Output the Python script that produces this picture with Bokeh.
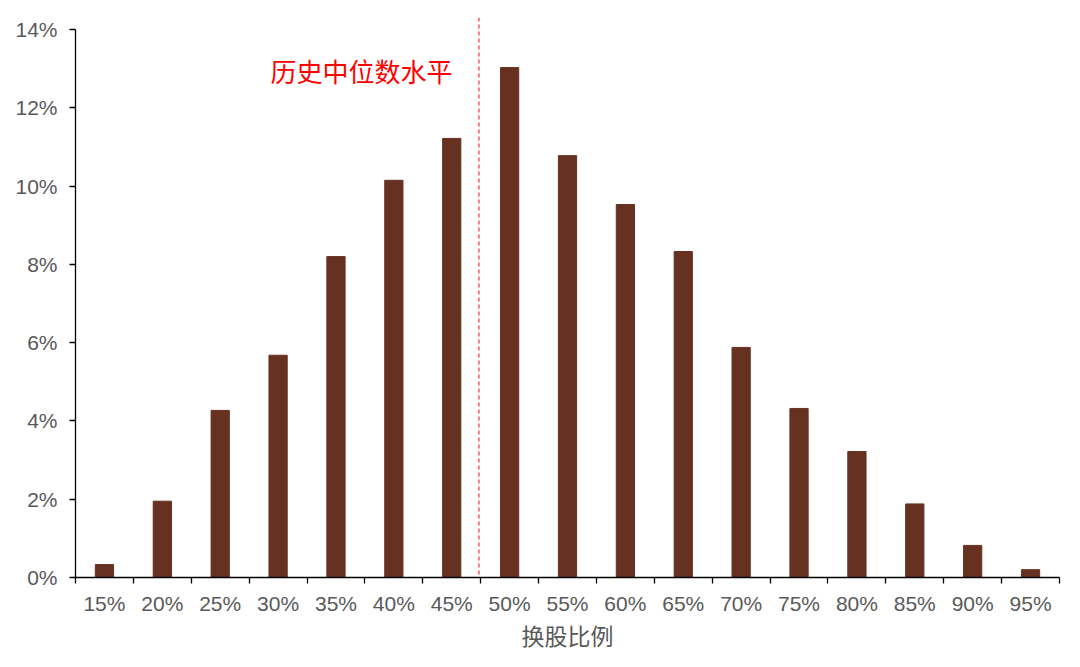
from bokeh.plotting import figure
from bokeh.models import FixedTicker, Span, Label, Range1d, CustomJSTickFormatter
from bokeh.embed import file_html
from bokeh.resources import INLINE

# ---- data ----
categories = ["15%", "20%", "25%", "30%", "35%", "40%", "45%", "50%", "55%",
              "60%", "65%", "70%", "75%", "80%", "85%", "90%", "95%"]
shares = [0.33, 1.95, 4.27, 5.68, 8.20, 10.15, 11.22, 13.03, 10.78,
          9.53, 8.33, 5.88, 4.32, 3.22, 1.88, 0.82, 0.20]
y_ticks = [0, 2, 4, 6, 8, 10, 12, 14]
median_label = "历史中位数水平"
x_title = "换股比例"
median_boundary = 6.97  # between 45% and 50%

n = len(categories)
centers = [i + 0.5 for i in range(n)]
boundaries = list(range(n + 1))

p = figure(width=1064, height=662,
           x_range=Range1d(0, n), y_range=Range1d(0, 14.31),
           output_backend="svg", toolbar_location=None,
           min_border_left=75, min_border_right=5,
           min_border_top=17, min_border_bottom=85)
p.outline_line_color = None
p.xgrid.grid_line_color = None
p.ygrid.grid_line_color = None
p.background_fill_color = "white"
p.border_fill_color = "white"

p.vbar(x=centers, top=shares, width=0.315, color="#663120")

# x axis
xa = p.xaxis[0]
xa.ticker = FixedTicker(ticks=centers, minor_ticks=boundaries)
xa.formatter = CustomJSTickFormatter(args=dict(labels=categories),
                                     code="return labels[Math.floor(tick)] || '';")
xa.major_tick_line_color = None
xa.minor_tick_line_color = "#000000"
xa.minor_tick_line_width = 1.3
xa.minor_tick_in = 0
xa.minor_tick_out = 6
xa.axis_line_color = "#000000"
xa.axis_line_width = 1.3
xa.major_label_text_font = "Liberation Sans"
xa.major_label_text_font_size = "21px"
xa.major_label_text_color = "#595959"
xa.major_label_standoff = 8
xa.axis_label = x_title
xa.axis_label_text_font = "Noto Sans CJK SC"
xa.axis_label_text_font_size = "23px"
xa.axis_label_text_font_style = "normal"
xa.axis_label_text_color = "#595959"
xa.axis_label_standoff = 0

# y axis
ya = p.yaxis[0]
ya.ticker = FixedTicker(ticks=y_ticks)
ya.formatter = CustomJSTickFormatter(code="return tick + '%';")
ya.bounds = (0, 14)
ya.minor_tick_line_color = None
ya.major_tick_line_color = "#000000"
ya.major_tick_line_width = 1.3
ya.major_tick_in = 0
ya.major_tick_out = 6
ya.axis_line_color = "#000000"
ya.axis_line_width = 1.3
ya.major_label_text_font = "Liberation Sans"
ya.major_label_text_font_size = "21px"
ya.major_label_text_color = "#595959"
ya.major_label_standoff = 12

# median line and label
p.add_layout(Span(location=median_boundary, dimension="height",
                  line_color="#FF3030", line_dash="4 3", line_width=1.2))
p.add_layout(Label(x=4.94, y=12.95, text=median_label,
                   text_font="Noto Sans CJK SC", text_font_size="26px",
                   text_color="#FF0000", text_align="center",
                   text_baseline="middle"))

open("out.html", "w").write(file_html(p, INLINE))
